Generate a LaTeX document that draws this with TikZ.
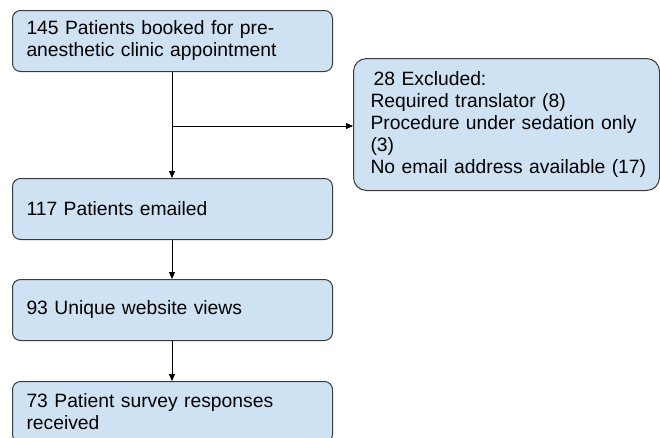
\documentclass[tikz,border=0pt]{standalone}
\usepackage{fontspec}
\setmainfont{Liberation Sans}
\usetikzlibrary{arrows.meta,positioning}
\definecolor{boxfill}{HTML}{CFE2F3}
\definecolor{boxline}{HTML}{3A3A3A}
\hbadness=10000 \hfuzz=100pt
\tikzset{
  stepbox/.style={draw=boxline, line width=1pt, fill=boxfill, rounded corners=8pt,
    anchor=north west, align=left, text width=#1, inner xsep=14pt, inner ysep=0pt,
    font=\fontsize{19.3pt}{22pt}\selectfont, text=black},
  flow/.style={draw=black, line width=0.8pt, -{Triangle[width=6pt,length=7pt]}}
}
\begin{document}
\begin{tikzpicture}[x=1pt,y=-1pt]
\useasboundingbox (0,0) rectangle (660,437);
\clip (0,0) rectangle (660,437);
\node[stepbox=292pt, minimum height=61pt] (b1) at (12,10) {145 Patients booked for pre-\\anesthetic clinic appointment};
\node[stepbox=292pt, minimum height=61pt] (b2) at (12,178) {117 Patients emailed};
\node[stepbox=292pt, minimum height=61pt] (b3) at (12,279) {93 Unique website views};
\node[stepbox=292pt, minimum height=61pt] (b4) at (12,381) {73 Patient survey responses\\received};
\node[stepbox=272pt, inner xsep=17pt, minimum height=132pt, rounded corners=13pt] (b5) at (353,58) {\,28 Excluded:\\Required translator (8)\\Procedure under sedation only\\(3)\\\mbox{No email address available (17)}};
\coordinate (j) at (172,126);
\draw[flow] (b1.south -| j) -- (b2.north -| j);
\draw[flow] (j) -- (b5.west |- j);
\draw[flow] (b2.south -| j) -- (b3.north -| j);
\draw[flow] (b3.south -| j) -- (b4.north -| j);
\end{tikzpicture}
\end{document}
